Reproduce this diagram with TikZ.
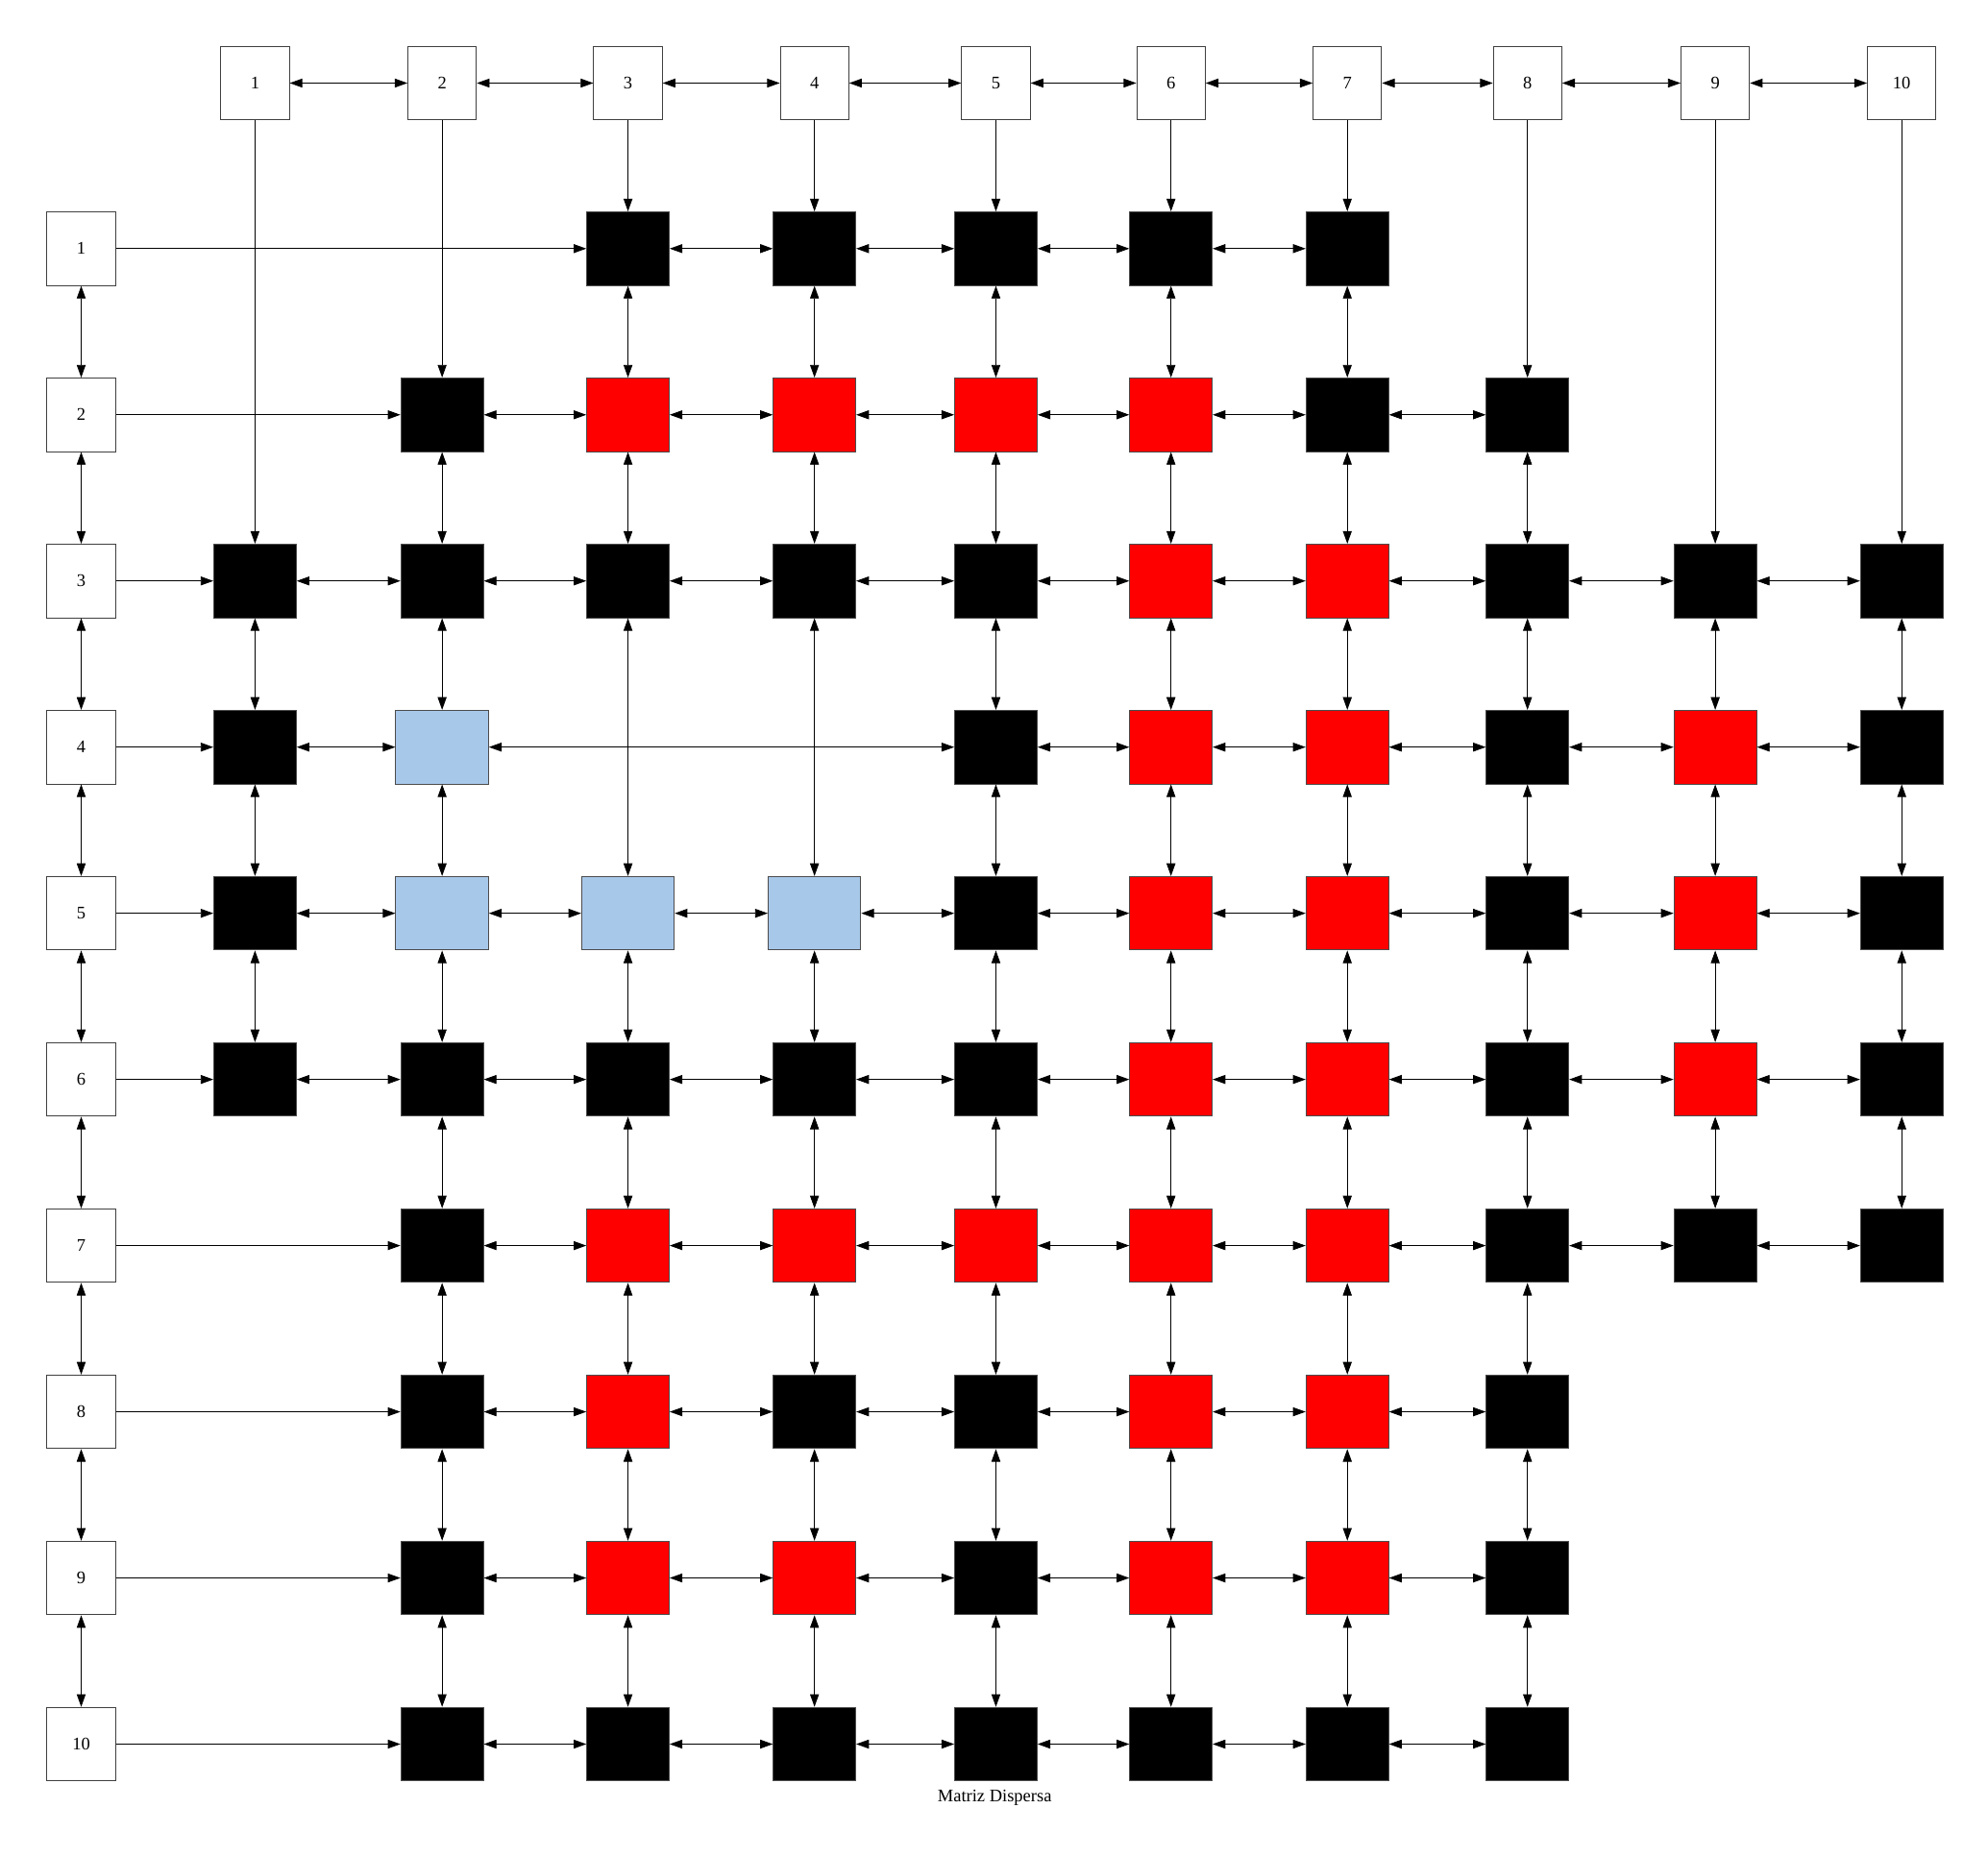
\documentclass[tikz,border=0pt]{standalone}
\usepackage{fontspec}
\setmainfont{Liberation Serif}
\usetikzlibrary{arrows.meta}
\definecolor{cellblue}{HTML}{A8C8EA}
\begin{document}
\begin{tikzpicture}[x=1pt,y=-1pt,
  hdr/.style={draw=black!75, line width=0.7pt, fill=white, minimum width=54pt, minimum height=58pt, inner sep=0pt, font=\fontsize{14}{16}\selectfont},
  cell/.style={draw=black!70, line width=0.7pt, minimum width=65pt, minimum height=58pt, inner sep=0pt},
  cellk/.style={cell, fill=black},
  cellr/.style={cell, fill=red},
  cellb/.style={cell, fill=cellblue, minimum width=73pt},
  link/.style={draw=black, line width=0.7pt, -{Triangle[length=10pt,width=7pt]}},
  dlink/.style={draw=black, line width=0.7pt, {Triangle[length=10pt,width=7pt]}-{Triangle[length=10pt,width=7pt]}},
  caption/.style={font=\fontsize{14}{16}\selectfont}]
\useasboundingbox (0,0) rectangle (1567,1464);
% column and row positions
\foreach \c/\x in {1/201,2/348.5,3/495,4/642,5/785,6/923,7/1062,8/1204,9/1352,10/1499}
  \coordinate (cx\c) at (\x,0);
\foreach \r in {1,...,10}
  \coordinate (ry\r) at (0,{196+131*(\r-1)});
% headers
\foreach \c in {1,...,10}
  \node[hdr] (h\c) at (cx\c |- 0,65.5) {\c};
\foreach \r in {1,...,10}
  \node[hdr] (r\r) at (64,0 |- ry\r) {\r};
% data cells
\foreach \r/\list in {
  1/{3/k,4/k,5/k,6/k,7/k},
  2/{2/k,3/r,4/r,5/r,6/r,7/k,8/k},
  3/{1/k,2/k,3/k,4/k,5/k,6/r,7/r,8/k,9/k,10/k},
  4/{1/k,2/b,5/k,6/r,7/r,8/k,9/r,10/k},
  5/{1/k,2/b,3/b,4/b,5/k,6/r,7/r,8/k,9/r,10/k},
  6/{1/k,2/k,3/k,4/k,5/k,6/r,7/r,8/k,9/r,10/k},
  7/{2/k,3/r,4/r,5/r,6/r,7/r,8/k,9/k,10/k},
  8/{2/k,3/r,4/k,5/k,6/r,7/r,8/k},
  9/{2/k,3/r,4/r,5/k,6/r,7/r,8/k},
  10/{2/k,3/k,4/k,5/k,6/k,7/k,8/k}} {
  \foreach \c/\t [count=\i, remember=\c as \lc] in \list {
    \node[cell\t] (n\r-\c) at (cx\c |- ry\r) {};
    \ifnum\i=1
      \draw[link] (r\r) -- (n\r-\c);
    \else
      \draw[dlink] (n\r-\lc) -- (n\r-\c);
    \fi
  }
}
% column links
\foreach \c/\list in {
  1/{3,4,5,6},
  2/{2,3,4,5,6,7,8,9,10},
  3/{1,2,3,5,6,7,8,9,10},
  4/{1,2,3,5,6,7,8,9,10},
  5/{1,2,3,4,5,6,7,8,9,10},
  6/{1,2,3,4,5,6,7,8,9,10},
  7/{1,2,3,4,5,6,7,8,9,10},
  8/{2,3,4,5,6,7,8,9,10},
  9/{3,4,5,6,7},
  10/{3,4,5,6,7}} {
  \foreach \r [count=\i, remember=\r as \lr] in \list {
    \ifnum\i=1
      \draw[link] (h\c) -- (n\r-\c);
    \else
      \draw[dlink] (n\lr-\c) -- (n\r-\c);
    \fi
  }
}
% header chains
\foreach \a/\b in {1/2,2/3,3/4,4/5,5/6,6/7,7/8,8/9,9/10} {
  \draw[dlink] (h\a) -- (h\b);
  \draw[dlink] (r\a) -- (r\b);
}
\node[caption] (cap) at (784,1417) {Matriz Dispersa};
\end{tikzpicture}
\end{document}
